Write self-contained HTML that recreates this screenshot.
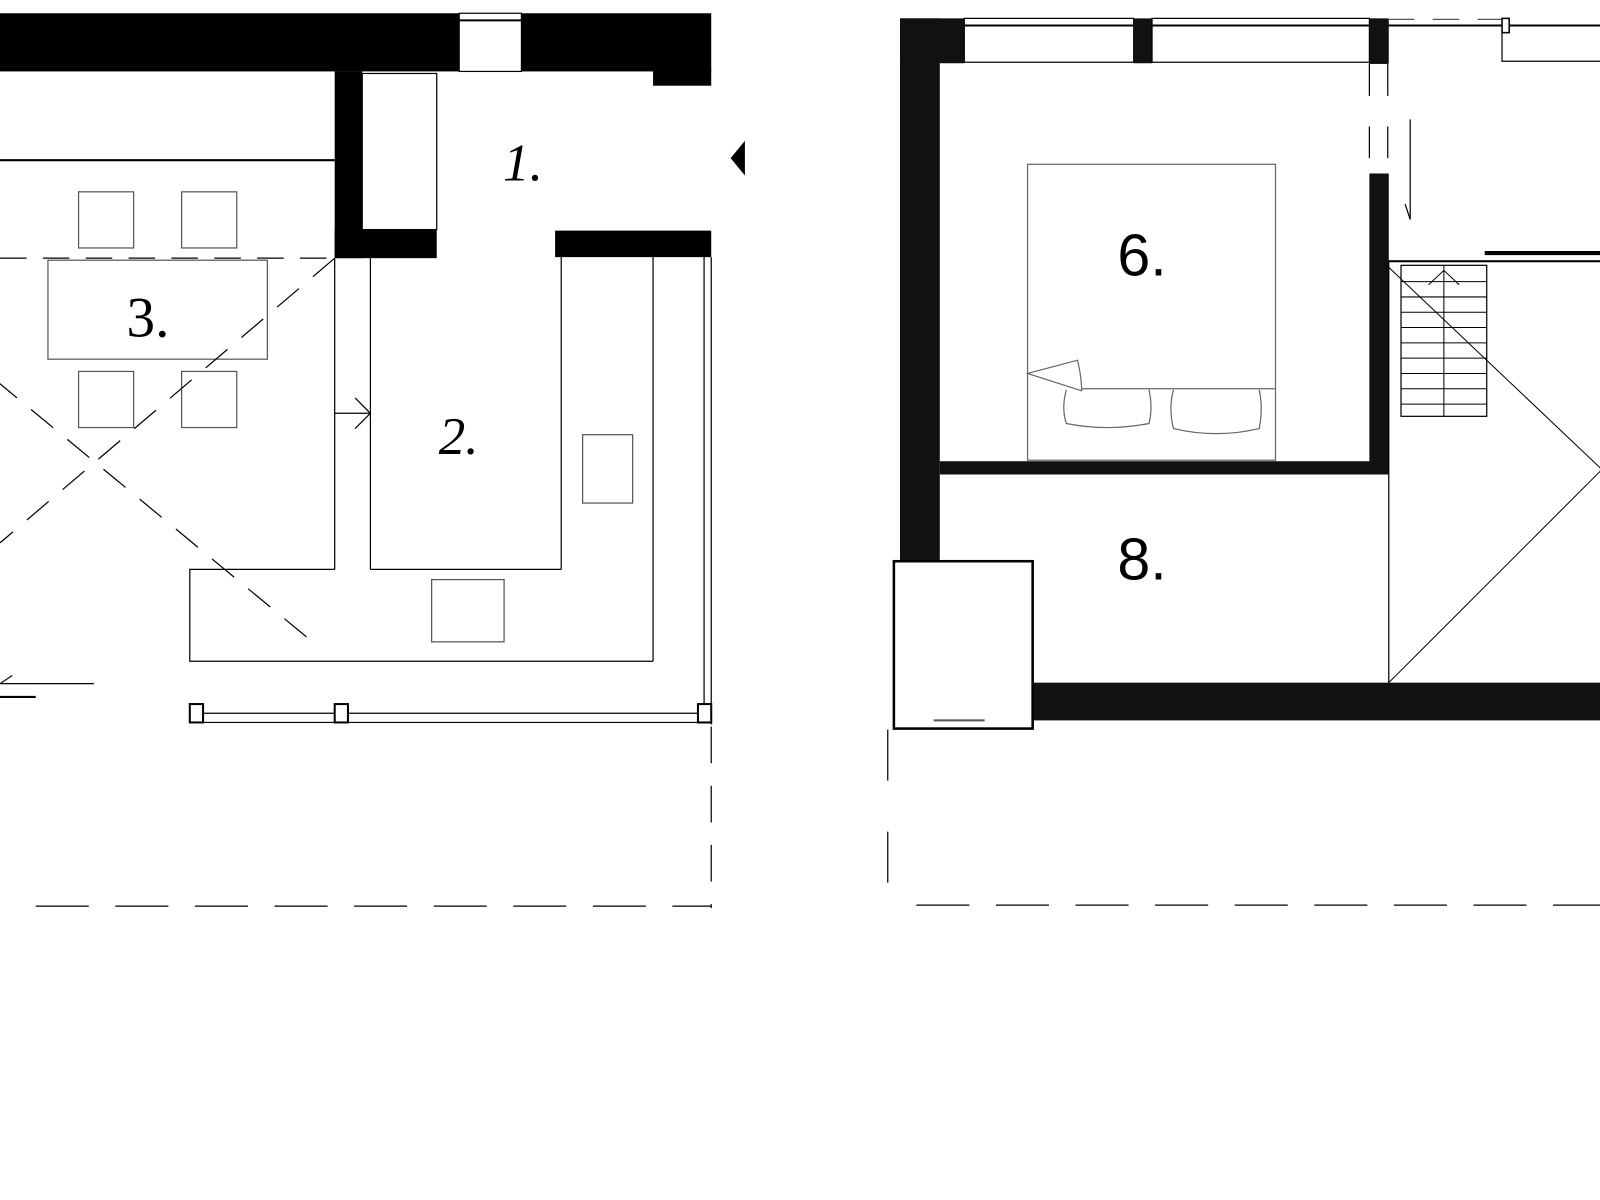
<!DOCTYPE html>
<html><head><meta charset="utf-8"><style>
html,body{margin:0;padding:0;background:#fff;width:1600px;height:1200px;overflow:hidden}
svg{display:block}
text{font-family:"Liberation Serif",serif;fill:#000}
</style></head><body>
<svg width="1600" height="1200" viewBox="0 0 1568 1176" preserveAspectRatio="none" xmlns="http://www.w3.org/2000/svg">
<g fill="none" stroke="#000" stroke-width="1.2">
<!-- LEFT PLAN -->
<rect x="0" y="13" width="697" height="57" fill="#000" stroke="none"/>
<rect x="640" y="68" width="57" height="16" fill="#000" stroke="none"/>
<rect x="450" y="13" width="61" height="57" fill="#fff"/>
<line x1="450" y1="20" x2="511" y2="20" stroke-width="2"/>
<rect x="328" y="70" width="27" height="183" fill="#000" stroke="none"/>
<rect x="328" y="225" width="100" height="28" fill="#000" stroke="none"/>
<rect x="355" y="72" width="73" height="153" fill="#fff"/>
<line x1="0" y1="157" x2="328" y2="157" stroke-width="2"/>
<rect x="77" y="188" width="54" height="55" stroke="#555"/>
<rect x="178" y="188" width="54" height="55" stroke="#555"/>
<rect x="77" y="364" width="54" height="55" stroke="#555"/>
<rect x="178" y="364" width="54" height="55" stroke="#555"/>
<rect x="47" y="255" width="215" height="97" stroke="#555"/>
<line x1="0" y1="253" x2="328" y2="253" stroke-dasharray="26,16"/>
<rect x="544" y="226" width="153" height="26" fill="#000" stroke="none"/>
<line x1="328" y1="253" x2="328" y2="558"/>
<line x1="363" y1="253" x2="363" y2="558"/>
<line x1="550" y1="252" x2="550" y2="558"/>
<line x1="640" y1="252" x2="640" y2="648"/>
<line x1="690" y1="252" x2="690" y2="700"/>
<line x1="697" y1="252" x2="697" y2="710"/>
<polyline points="328,558 186,558 186,648 640,648"/>
<line x1="363" y1="558" x2="550" y2="558"/>
<rect x="571" y="426" width="49" height="67" stroke="#555"/>
<rect x="423" y="568" width="71" height="61" stroke="#555"/>
<line x1="328" y1="405" x2="363" y2="405"/>
<polyline points="348,390 363,405 348,420"/>
<line x1="328" y1="253" x2="0" y2="532" stroke-dasharray="28,18"/>
<line x1="-5" y1="372" x2="305" y2="628" stroke-dasharray="28,18"/>
<line x1="186" y1="699" x2="697" y2="699"/>
<line x1="186" y1="708" x2="697" y2="708"/>
<rect x="186" y="690" width="13" height="18" fill="#fff" stroke-width="2"/>
<rect x="328" y="690" width="13" height="18" fill="#fff" stroke-width="2"/>
<rect x="684" y="690" width="13" height="18" fill="#fff" stroke-width="2"/>
<line x1="0" y1="670" x2="92" y2="670"/>
<line x1="0" y1="683" x2="35" y2="683" stroke-width="2"/>
<polyline points="12,662 0,670"/>
<line x1="697" y1="712" x2="697" y2="890" stroke-dasharray="36,22"/>
<line x1="35" y1="888" x2="697" y2="888" stroke-dasharray="52,26"/>
<polygon points="730,138 716,155 730,172" fill="#000" stroke="none"/>

<!-- RIGHT PLAN -->
<rect x="882" y="18" width="39" height="532" fill="#111" stroke="none"/>
<rect x="882" y="18" width="63" height="44" fill="#111" stroke="none"/>
<rect x="945" y="18" width="166" height="43" fill="#fff"/>
<line x1="945" y1="25" x2="1111" y2="25" stroke-width="2"/>
<rect x="1111" y="18" width="18" height="44" fill="#111" stroke="none"/>
<rect x="1129" y="18" width="213" height="43" fill="#fff"/>
<line x1="1129" y1="25" x2="1342" y2="25" stroke-width="2"/>
<rect x="1342" y="18" width="19" height="44" fill="#111" stroke="none"/>
<line x1="1342" y1="62" x2="1342" y2="155" stroke-dasharray="32,30"/>
<line x1="1360" y1="62" x2="1360" y2="155" stroke-dasharray="32,30"/>
<line x1="1342" y1="62" x2="1360" y2="62"/>
<rect x="1342" y="170" width="19" height="295" fill="#111" stroke="none"/>
<line x1="1382" y1="117" x2="1382" y2="215"/>
<line x1="1382" y1="215" x2="1377" y2="200"/>
<rect x="921" y="452" width="440" height="13" fill="#111" stroke="none"/>
<rect x="1007" y="161" width="243" height="290" stroke="#666"/>
<line x1="1058" y1="381" x2="1250" y2="381" stroke="#666"/>
<path d="M1007,366 L1056,353 Q1060,370 1060,383 Z" fill="#fff" stroke="#666"/>
<path d="M1045,382 Q1040,400 1045,415 Q1085,423 1126,415 Q1130,400 1126,382" stroke="#666"/>
<path d="M1150,382 Q1145,400 1150,420 Q1192,430 1234,420 Q1238,400 1234,382" stroke="#666"/>
<rect x="1360" y="255" width="208" height="2" fill="#000" stroke="none"/>
<line x1="1455" y1="248" x2="1568" y2="248" stroke-width="4"/>
<line x1="1361" y1="255" x2="1361" y2="669"/>
<rect x="1373" y="260" width="84" height="148"/>
<g stroke-width="1">
<line x1="1415" y1="260" x2="1415" y2="408"/>
<line x1="1373" y1="276" x2="1457" y2="276"/><line x1="1373" y1="291" x2="1457" y2="291"/>
<line x1="1373" y1="306" x2="1457" y2="306"/><line x1="1373" y1="321" x2="1457" y2="321"/>
<line x1="1373" y1="336" x2="1457" y2="336"/><line x1="1373" y1="351" x2="1457" y2="351"/>
<line x1="1373" y1="366" x2="1457" y2="366"/><line x1="1373" y1="381" x2="1457" y2="381"/>
<line x1="1373" y1="396" x2="1457" y2="396"/>
<polyline points="1400,279 1415,265 1430,279"/>
<line x1="1361" y1="262" x2="1575" y2="465"/>
<line x1="1361" y1="669" x2="1575" y2="455"/>
</g>
<rect x="1012" y="669" width="556" height="37" fill="#111" stroke="none"/>
<rect x="876" y="550" width="136" height="164" fill="#fff" stroke-width="2.5"/>
<line x1="915" y1="706" x2="965" y2="706" stroke="#555" stroke-width="2"/>
<line x1="1360" y1="25" x2="1568" y2="25" stroke-width="2"/>
<line x1="1360" y1="19" x2="1475" y2="19" stroke-dasharray="26,18" stroke="#555"/>
<rect x="1472" y="18" width="7" height="14" fill="#fff" stroke-width="1.5"/>
<polyline points="1472,32 1472,60 1568,60"/>
<line x1="870" y1="715" x2="870" y2="865" stroke-dasharray="50,50"/>
<line x1="898" y1="887" x2="1568" y2="887" stroke-dasharray="52,26"/>
</g>
<text x="493" y="177" font-size="52" font-style="italic">1.</text>
<text x="124" y="330" font-size="56">3.</text>
<text x="430" y="445" font-size="52" font-style="italic">2.</text>
<text x="1095" y="270" font-size="58" font-family="Liberation Sans, sans-serif" style="font-family:'Liberation Sans',sans-serif">6.</text>
<text x="1095" y="568" font-size="58" style="font-family:'Liberation Sans',sans-serif">8.</text>
</svg>
</body></html>
